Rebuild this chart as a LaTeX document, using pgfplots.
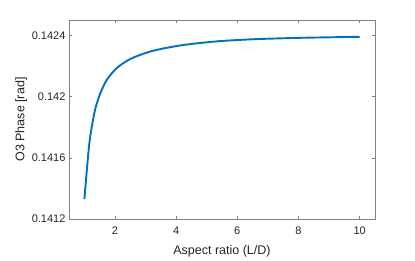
\documentclass[border=0pt]{standalone}
\usepackage{fontspec}
\setmainfont{Liberation Sans}
\usepackage{pgfplots}
\pgfplotsset{compat=1.18}
\definecolor{mblue}{rgb}{0,0.447,0.741}
\definecolor{mtext}{rgb}{0.15,0.15,0.15}
\definecolor{maxis}{rgb}{0.5,0.5,0.5}
\begin{document}
\begin{tikzpicture}
\begin{axis}[
  scale only axis,
  width=306pt, height=199pt,
  xmin=0.5, xmax=10.5,
  ymin=0.1412, ymax=0.1425,
  xtick={2,4,6,8,10},
  ytick={0.1412,0.1416,0.142,0.1424},
  scaled y ticks=false,
  yticklabel style={/pgf/number format/fixed,/pgf/number format/precision=4},
  /pgf/number format/assume math mode=true,
  tick align=inside,
  major tick length=3pt,
  axis line style={maxis, line width=0.5pt},
  every tick/.style={maxis, line width=0.5pt},
  ticklabel style={font=\fontsize{11}{13}\selectfont, text=mtext},
  xticklabel style={yshift=-4pt},
  label style={font=\fontsize{12.5}{14}\selectfont, text=mtext},
  xlabel={Aspect ratio (L/D)},
  ylabel={O3 Phase [rad]},
  xlabel style={yshift=-4pt},
  ylabel style={yshift=-2pt},
  clip=false,
]
\addplot[mblue, line width=1.9pt, smooth, tension=0.5] coordinates {
(1.003,0.141330) (1.055,0.141453) (1.111,0.141583) (1.176,0.141713) (1.27,0.141830)
(1.371,0.141929) (1.534,0.142027) (1.752,0.142114) (2.078,0.142189) (2.511,0.142246)
(3.055,0.142288) (3.489,0.142310) (4.14,0.142334) (4.79,0.142350) (5.44,0.142362)
(6.09,0.142370) (6.74,0.142376) (7.95,0.142383) (9.03,0.142387) (10.0,0.142390)
};
\end{axis}
\path (current axis.south west) ++(-69pt,-42pt) coordinate (bl);
\path (current axis.north east) ++(40pt,20pt) coordinate (tr);
\end{tikzpicture}
\end{document}
